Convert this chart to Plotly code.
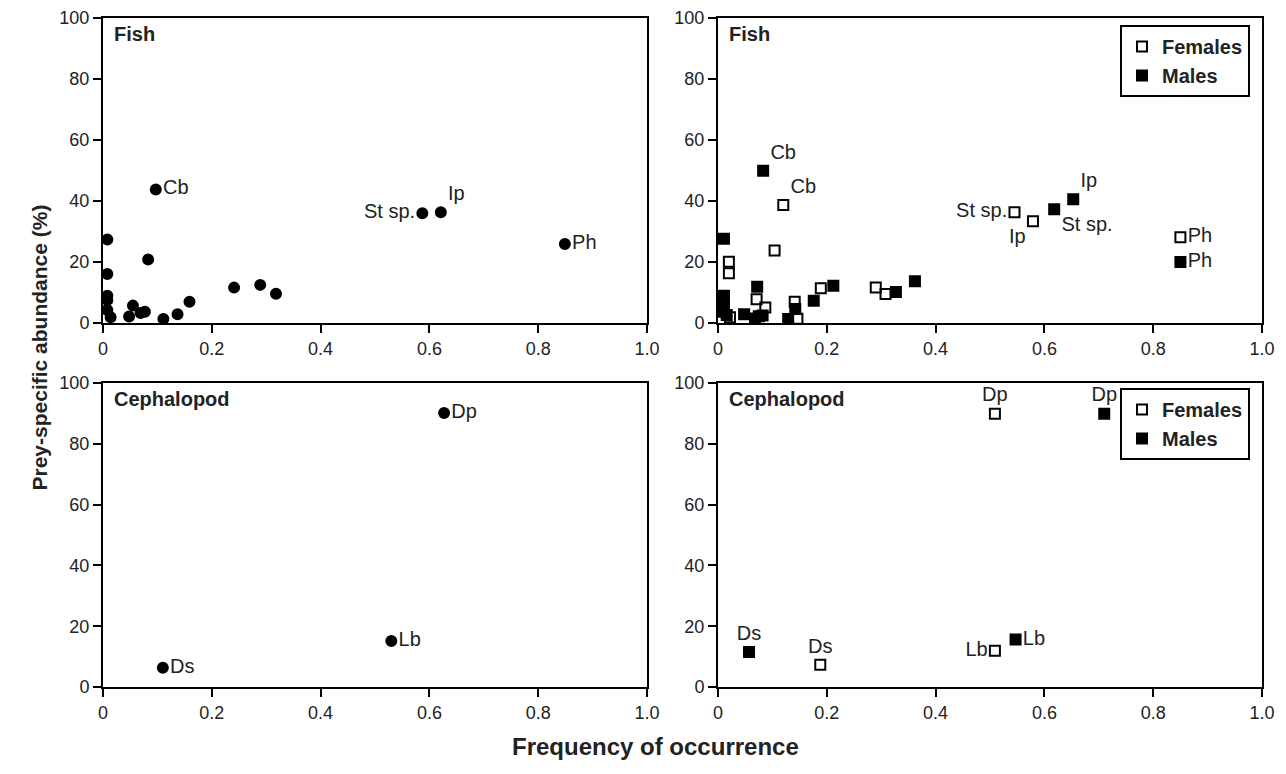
import plotly.graph_objects as go

# ---------------- Data ----------------
# Top-left: Fish (pooled)
fish_x = [0.097, 0.008, 0.083, 0.008, 0.008, 0.008, 0.008, 0.014, 0.048, 0.055, 0.069, 0.077,
          0.111, 0.137, 0.159, 0.241, 0.289, 0.318, 0.587, 0.621, 0.849]
fish_y = [43.8, 27.4, 20.8, 16.1, 8.9, 7.5, 4.3, 1.9, 2.1, 5.7, 3.3, 3.7,
          1.3, 2.9, 7.0, 11.6, 12.5, 9.6, 36.0, 36.3, 25.9]
fish_lab = ["Cb", "", "", "", "", "", "", "", "", "", "", "",
            "", "", "", "", "", "", "St sp.", "Ip", "Ph"]
fish_pos = ["middle right", "", "", "", "", "", "", "", "", "", "", "",
            "", "", "", "", "", "", "middle left", "top right", "middle right"]

# Top-right: Fish by sex
fish_f_x = [0.120, 0.104, 0.020, 0.020, 0.022, 0.071, 0.087, 0.141, 0.146, 0.189, 0.290, 0.308,
            0.545, 0.579, 0.850]
fish_f_y = [38.7, 23.8, 20.1, 16.3, 1.9, 7.8, 5.1, 7.0, 1.4, 11.4, 11.6, 9.5,
            36.3, 33.4, 28.1]
fish_f_lab = ["Cb", "", "", "", "", "", "", "", "", "", "", "",
              "St sp.", "Ip", "Ph"]
fish_f_pos = ["top right", "", "", "", "", "", "", "", "", "", "", "",
              "middle left", "bottom left", "middle right"]

fish_m_x = [0.083, 0.011, 0.072, 0.011, 0.011, 0.011, 0.016, 0.048, 0.068, 0.075, 0.082,
            0.129, 0.142, 0.176, 0.212, 0.327, 0.362, 0.618, 0.653, 0.850]
fish_m_y = [49.9, 27.6, 11.9, 8.9, 7.5, 3.7, 2.6, 2.9, 1.5, 2.2, 2.5,
            1.3, 4.6, 7.3, 12.2, 10.2, 13.7, 37.3, 40.6, 20.0]
fish_m_lab = ["Cb", "", "", "", "", "", "", "", "", "", "",
              "", "", "", "", "", "", "St sp.", "Ip", "Ph"]
fish_m_pos = ["top right", "", "", "", "", "", "", "", "", "", "",
              "", "", "", "", "", "", "bottom right", "top right", "middle right"]

# Bottom-left: Cephalopod (pooled)
ceph_x = [0.627, 0.530, 0.110]
ceph_y = [90.1, 15.1, 6.3]
ceph_lab = ["Dp", "Lb", "Ds"]
ceph_pos = ["middle right", "middle right", "middle right"]

# Bottom-right: Cephalopod by sex
ceph_f_x = [0.509, 0.188, 0.509]
ceph_f_y = [89.9, 7.3, 11.9]
ceph_f_lab = ["Dp", "Ds", "Lb"]
ceph_f_pos = ["top center", "top center", "middle left"]

ceph_m_x = [0.710, 0.057, 0.547]
ceph_m_y = [89.9, 11.5, 15.6]
ceph_m_lab = ["Dp", "Ds", "Lb"]
ceph_m_pos = ["top center", "top center", "middle right"]

x_ticks = [0, 0.2, 0.4, 0.6, 0.8, 1.0]
x_ticktext = ["0", "0.2", "0.4", "0.6", "0.8", "1.0"]
y_ticks = [0, 20, 40, 60, 80, 100]
y_ticktext = ["0", "20", "40", "60", "80", "100"]

panel_titles = ["Fish", "Fish", "Cephalopod", "Cephalopod"]
legend_names = ["<b>Females</b>", "<b>Males</b>"]

# ---------------- Figure ----------------
W, H = 1278, 766   # page body has an 8px margin; keep the figure inside the window
OFF = 8
FONT = "Liberation Sans, Arial, sans-serif"

def fx(px):
    return (px - OFF) / W

def fy(py):
    return (H - (py - OFF)) / H

dom_x = [[fx(103), fx(647)], [fx(718), fx(1262)]]
dom_y = [[fy(323), fy(18)], [fy(687), fy(383)]]

fig = go.Figure()

label_font = dict(family=FONT, size=20, color="#222")

def add(xs, ys, labs, poss, axis, symbol, size, name=None, showlegend=False, legendgroup=None, legend=None):
    kw = {}
    if legend:
        kw["legend"] = legend
    poss = [p if p else "middle right" for p in poss]
    fig.add_trace(go.Scatter(
        x=xs, y=ys, mode="markers+text", text=labs, textposition=poss,
        textfont=label_font, cliponaxis=False,
        marker=dict(symbol=symbol, size=size, color="black",
                    line=dict(color="black", width=2)),
        xaxis="x" + axis, yaxis="y" + axis,
        name=name, showlegend=showlegend, legendgroup=legendgroup, **kw))

add(fish_x, fish_y, fish_lab, fish_pos, "", "circle", 10)
add(fish_f_x, fish_f_y, fish_f_lab, fish_f_pos, "2", "square-open", 10, legend_names[0], True, "f", "legend")
add(fish_m_x, fish_m_y, fish_m_lab, fish_m_pos, "2", "square", 10, legend_names[1], True, "m", "legend")
add(ceph_x, ceph_y, ceph_lab, ceph_pos, "3", "circle", 10)
add(ceph_f_x, ceph_f_y, ceph_f_lab, ceph_f_pos, "4", "square-open", 10, legend_names[0], True, "f", "legend2")
add(ceph_m_x, ceph_m_y, ceph_m_lab, ceph_m_pos, "4", "square", 10, legend_names[1], True, "m", "legend2")

axis_common = dict(showline=True, linecolor="black", linewidth=2, mirror=True,
                   ticks="outside", ticklen=8, tickwidth=2, tickcolor="black",
                   showgrid=False, zeroline=False, automargin=False,
                   tickfont=dict(family=FONT, size=18, color="#222"))

layout = dict(width=W, height=H, plot_bgcolor="white", paper_bgcolor="white",
              margin=dict(l=0, r=0, t=0, b=0, autoexpand=False), showlegend=True)

panels = [("", 0, 0), ("2", 1, 0), ("3", 0, 1), ("4", 1, 1)]
for name, cx, cy in panels:
    xa = dict(axis_common, domain=dom_x[cx], range=[0, 1], tickvals=x_ticks, ticktext=x_ticktext,
              anchor="y" + name)
    ya = dict(axis_common, domain=dom_y[cy], range=[0, 100], tickvals=y_ticks, ticktext=y_ticktext,
              anchor="x" + name)
    layout["xaxis" + name] = xa
    layout["yaxis" + name] = ya

fig.update_layout(**layout)

# Panel titles
for (name, cx, cy), title in zip(panels, panel_titles):
    fig.add_annotation(text="<b>" + title + "</b>", xref="x" + name + " domain", yref="y" + name + " domain",
                       x=0, y=1, xshift=9, yshift=-3, xanchor="left", yanchor="top", showarrow=False,
                       font=dict(family=FONT, size=20, color="#222"))

# Legends
leg_style = dict(bgcolor="white", bordercolor="black", borderwidth=2,
                 font=dict(family=FONT, size=20, color="#222"),
                 xanchor="left", yanchor="top", tracegroupgap=0)
fig.update_layout(
    legend=dict(leg_style, x=fx(1120), y=fy(25)),
    legend2=dict(leg_style, x=fx(1120), y=fy(388)),
)

# Axis titles
fig.add_annotation(text="<b>Prey-specific abundance (%)</b>", xref="paper", yref="paper",
                   x=fx(25), y=fy(348), textangle=-90, showarrow=False,
                   font=dict(family=FONT, size=21, color="#222"))
fig.add_annotation(text="<b>Frequency of occurrence</b>", xref="paper", yref="paper",
                   x=fx(655), y=fy(762), showarrow=False,
                   font=dict(family=FONT, size=24, color="#222"))

fig.write_html("out.html")
